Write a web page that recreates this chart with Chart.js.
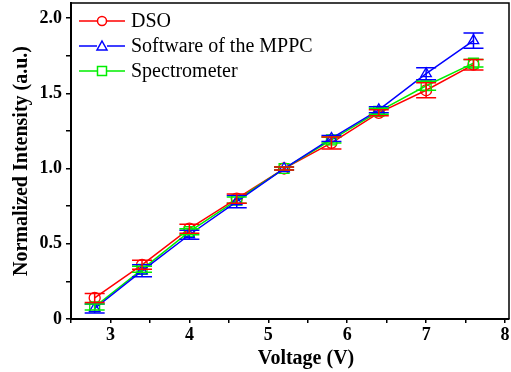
<!DOCTYPE html>
<html>
<head>
<meta charset="utf-8">
<script src="https://cdn.jsdelivr.net/npm/chart.js@4.4.1/dist/chart.umd.min.js"></script>
<style>
  html, body { margin: 0; padding: 0; background: #fff; }
  #wrap { width: 511px; height: 372px; }
</style>
</head>
<body>
<div id="wrap"><canvas id="chart" width="511" height="372"></canvas></div>
<script>
// Data
const voltage = [2.8, 3.4, 4.0, 4.6, 5.2, 5.8, 6.4, 7.0, 7.6];
const dso = [0.14, 0.36, 0.60, 0.80, 1.00, 1.17, 1.37, 1.52, 1.69];
const dsoErr = [0.03, 0.03, 0.03, 0.03, 0.01, 0.04, 0.02, 0.05, 0.035];
const mppc = [0.07, 0.32, 0.56, 0.78, 1.00, 1.20, 1.39, 1.63, 1.85];
const mppcErr = [0.03, 0.04, 0.03, 0.04, 0.01, 0.02, 0.02, 0.04, 0.05];
const spectrometer = [0.08, 0.33, 0.58, 0.79, 1.00, 1.19, 1.38, 1.55, 1.70];
const spectrometerErr = [0.02, 0.02, 0.02, 0.02, 0.01, 0.02, 0.02, 0.03, 0.025];
const seriesNames = ["DSO", "Software of the MPPC", "Spectrometer"];
const yTickLabels = { 0: "0", 0.5: "0.5", 1: "1.0", 1.5: "1.5", 2: "2.0" };
const xTickLabels = [3, 4, 5, 6, 7, 8];
const xTitle = "Voltage (V)";

const serif = "'Liberation Serif', 'Times New Roman', serif";

function toPoints(ys) {
    return voltage.map((x, i) => ({ x: x, y: ys[i] }));
}

// Vertical error bars with caps, drawn through the chart scales
const errorBars = {
    id: "errorBars",
    afterDatasetsDraw(chart) {
        const ctx = chart.ctx;
        const xs = chart.scales.x;
        const ys = chart.scales.y;
        chart.data.datasets.forEach(ds => {
            ctx.save();
            ctx.strokeStyle = ds.borderColor;
            ctx.lineWidth = 1.5;
            ds.data.forEach((p, i) => {
                const e = ds.errors[i];
                const px = xs.getPixelForValue(p.x);
                const top = ys.getPixelForValue(p.y + e);
                const bot = ys.getPixelForValue(p.y - e);
                ctx.beginPath();
                ctx.moveTo(px, top);
                ctx.lineTo(px, bot);
                ctx.moveTo(px - 10, top);
                ctx.lineTo(px + 10, top);
                ctx.moveTo(px - 10, bot);
                ctx.lineTo(px + 10, bot);
                ctx.stroke();
            });
            ctx.restore();
        });
    }
};

// Frame on top and right, the x title, and the line-marker-line legend
const frameAndLegend = {
    id: "frameAndLegend",
    afterDraw(chart) {
        const ctx = chart.ctx;
        const a = chart.chartArea;
        ctx.save();
        ctx.strokeStyle = "#000";
        ctx.lineWidth = 1.5;
        ctx.beginPath();
        ctx.moveTo(a.left, a.top);
        ctx.lineTo(a.right, a.top);
        ctx.lineTo(a.right, a.bottom);
        ctx.stroke();

        // x title sits a bit right of the plot centre in the original
        ctx.fillStyle = "#000";
        ctx.font = "bold 20px " + serif;
        ctx.textAlign = "center";
        ctx.textBaseline = "middle";
        ctx.fillText(xTitle, 306, 359);

        const rows = [21, 46, 71];
        seriesNames.forEach((name, i) => {
            const ds = chart.data.datasets.find(d => d.label === name);
            const y = rows[i];
            ctx.strokeStyle = ds.borderColor;
            ctx.lineWidth = 1.5;
            ctx.beginPath();
            ctx.moveTo(79, y);
            ctx.lineTo(97, y);
            ctx.moveTo(107, y);
            ctx.lineTo(125, y);
            ctx.stroke();
            ctx.beginPath();
            if (ds.pointStyle === "circle") {
                ctx.arc(102, y, 4.5, 0, Math.PI * 2);
            } else if (ds.pointStyle === "triangle") {
                ctx.moveTo(102, y - 5);
                ctx.lineTo(107, y + 4);
                ctx.lineTo(97, y + 4);
                ctx.closePath();
            } else {
                ctx.rect(97.5, y - 4.5, 9, 9);
            }
            ctx.stroke();
            ctx.fillStyle = "#000";
            ctx.font = "20px " + serif;
            ctx.textBaseline = "middle";
            ctx.textAlign = "left";
            ctx.fillText(name, 131, y + 1);
        });
        ctx.restore();
    }
};

function makeSet(label, values, errs, color, style, radius) {
    return {
        label: label,
        data: toPoints(values),
        errors: errs,
        borderColor: color,
        backgroundColor: "rgba(0,0,0,0)",
        borderWidth: 1.5,
        pointStyle: style,
        pointRadius: radius,
        pointBorderColor: color,
        pointBorderWidth: 1.3,
        tension: 0
    };
}

const chart = new Chart(document.getElementById("chart"), {
    type: "line",
    data: {
        datasets: [
            makeSet(seriesNames[1], mppc, mppcErr, "#0000ff", "triangle", 6),
            makeSet(seriesNames[2], spectrometer, spectrometerErr, "#00ee00", "rect", 7),
            makeSet(seriesNames[0], dso, dsoErr, "#ff0000", "circle", 5.5)
        ]
    },
    options: {
        responsive: false,
        animation: false,
        layout: { autoPadding: false, padding: { top: 3, right: 2, left: 0, bottom: 0 } },
        plugins: { legend: { display: false }, tooltip: { enabled: false } },
        scales: {
            x: {
                type: "linear",
                min: 2.5,
                max: 8.05,
                afterBuildTicks(scale) {
                    const t = [];
                    for (let v = 2.5; v <= 8.001; v += 0.5) t.push({ value: Math.round(v * 10) / 10 });
                    scale.ticks = t;
                },
                afterFit(scale) {
                    scale.height = 53;
                    scale.paddingLeft = 0;
                    scale.paddingRight = 0;
                },
                ticks: {
                    autoSkip: false,
                    maxRotation: 0,
                    padding: 2,
                    color: "#000",
                    font: { family: serif, size: 18, weight: "bold" },
                    callback: v => xTickLabels.includes(v) ? String(v) : ""
                },
                grid: { drawOnChartArea: false, drawTicks: true, tickLength: 4, color: "#000", lineWidth: 1.5 },
                border: { color: "#000", width: 2 },
                title: { display: false }
            },
            y: {
                min: 0,
                max: 2.1,
                afterBuildTicks(scale) {
                    const t = [];
                    for (let v = 0; v <= 2.001; v += 0.25) t.push({ value: Math.round(v * 100) / 100 });
                    scale.ticks = t;
                },
                afterFit(scale) {
                    scale.width = 71;
                    scale.paddingTop = 0;
                    scale.paddingBottom = 0;
                },
                ticks: {
                    autoSkip: false,
                    padding: 4,
                    color: "#000",
                    font: { family: serif, size: 18, weight: "bold" },
                    callback: v => (v in yTickLabels) ? yTickLabels[v] : ""
                },
                grid: { drawOnChartArea: false, drawTicks: true, tickLength: 5, color: "#000", lineWidth: 1.5 },
                border: { color: "#000", width: 2 },
                title: {
                    display: true,
                    text: "Normalized Intensity (a.u.)",
                    color: "#000",
                    font: { family: serif, size: 20, weight: "bold" },
                    padding: { top: 10, bottom: 0 }
                }
            }
        }
    },
    plugins: [errorBars, frameAndLegend]
});
</script>
</body>
</html>
